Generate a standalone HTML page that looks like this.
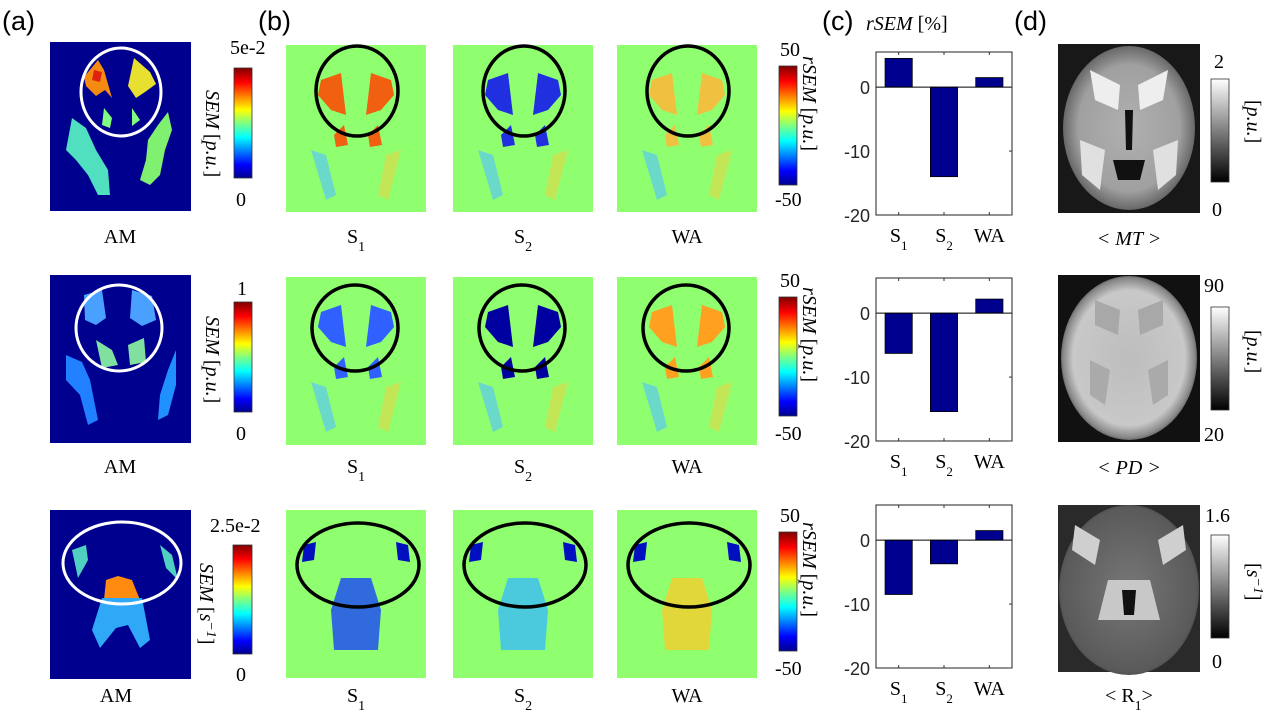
<!DOCTYPE html>
<html><head><meta charset="utf-8">
<style>
body{margin:0;background:#fff;}
svg{display:block;}
.pl{font-family:"Liberation Sans",sans-serif;font-size:27px;fill:#000;}
.tk{font-family:"Liberation Serif",serif;font-size:20px;fill:#000;}
.cap{font-family:"Liberation Serif",serif;font-size:20px;fill:#000;}
.ax{font-family:"Liberation Sans",sans-serif;font-size:18px;fill:#262626;}
.it{font-family:"Liberation Serif",serif;font-style:italic;font-size:20px;fill:#000;}
</style></head>
<body>
<svg id="fig" width="1280" height="720" viewBox="0 0 1280 720" xmlns="http://www.w3.org/2000/svg">
<defs>
<linearGradient id="jet" x1="0" y1="1" x2="0" y2="0">
<stop offset="0" stop-color="#00008f"/><stop offset="0.12" stop-color="#0000ff"/><stop offset="0.37" stop-color="#00ffff"/><stop offset="0.5" stop-color="#80ff80"/><stop offset="0.62" stop-color="#ffff00"/><stop offset="0.87" stop-color="#ff0000"/><stop offset="1" stop-color="#800000"/>
</linearGradient>
<linearGradient id="gray" x1="0" y1="1" x2="0" y2="0"><stop offset="0" stop-color="#000"/><stop offset="1" stop-color="#fff"/></linearGradient>
<radialGradient id="brainMT" cx="0.5" cy="0.5" r="0.55"><stop offset="0" stop-color="#b0b0b0"/><stop offset="0.7" stop-color="#a0a0a0"/><stop offset="0.9" stop-color="#6a6a6a"/><stop offset="1" stop-color="#1a1a1a"/></radialGradient>
<radialGradient id="brainPD" cx="0.5" cy="0.5" r="0.55"><stop offset="0" stop-color="#bdbdbd"/><stop offset="0.75" stop-color="#c8c8c8"/><stop offset="0.88" stop-color="#888"/><stop offset="1" stop-color="#111"/></radialGradient>
<radialGradient id="brainR1" cx="0.5" cy="0.5" r="0.6"><stop offset="0" stop-color="#777"/><stop offset="0.8" stop-color="#5a5a5a"/><stop offset="1" stop-color="#2a2a2a"/></radialGradient>
</defs>

<text class="pl" x="2" y="30">(a)</text>
<text class="pl" x="258" y="30">(b)</text>
<text class="pl" x="822" y="30">(c)</text>
<text class="pl" x="1014" y="30">(d)</text>
<text x="866" y="30"><tspan class="it">rSEM</tspan><tspan class="cap"> [%]</tspan></text>

<g>
<rect x="50" y="42" width="141" height="169" fill="#00008f"/>
<path d="M84,77 L98,60 L104,70 L112,98 L105,90 L96,96 L86,86 Z" fill="#f58a10"/>
<path d="M94,70 L102,72 L100,82 L92,80Z" fill="#e02010"/>
<path d="M134,58 L150,72 L156,84 L145,92 L136,98 L128,86 Z" fill="#e8e030"/>
<path d="M72,118 L86,128 L96,150 L108,170 L110,195 L98,195 L88,175 L76,160 L66,150 Z" fill="#50e0c0"/>
<path d="M168,112 L172,130 L165,150 L160,175 L150,185 L140,180 L146,160 L148,140 L158,125 Z" fill="#80f070"/>
<path d="M104,108 L112,118 L110,128 L102,125Z M132,108 L140,120 L132,126Z" fill="#80ff80"/>
<ellipse cx="121" cy="92" rx="40" ry="44" fill="none" stroke="#fff" stroke-width="3"/>
</g>
<g>
<rect x="234" y="68" width="18" height="110" fill="url(#jet)" stroke="#333" stroke-width="0.8"/>
<text class="tk" x="230" y="54">5e-2</text><text class="tk" x="236" y="206">0</text>
<text class="it" transform="translate(206,90) rotate(90)">SEM <tspan font-style="normal">[</tspan>p.u.<tspan font-style="normal">]</tspan></text>
</g>
<text class="cap" x="120" y="243" text-anchor="middle">AM</text>

<g>
<rect x="50" y="275" width="141" height="168" fill="#00008f"/>
<path d="M84,295 L102,290 L106,318 L96,325 L85,320Z" fill="#4aa0ff"/>
<path d="M132,290 L152,296 L156,320 L142,326 L130,318Z" fill="#4aa0ff"/>
<path d="M96,340 L112,350 L118,365 L102,368Z M128,345 L144,338 L146,362 L130,365Z" fill="#80e0a0"/>
<path d="M66,355 L82,362 L90,380 L98,420 L88,425 L80,395 L66,380Z" fill="#2080ff"/>
<path d="M176,350 L168,370 L160,395 L158,420 L168,415 L176,385Z" fill="#2090ff"/>
<ellipse cx="119" cy="328" rx="43" ry="43" fill="none" stroke="#fff" stroke-width="3"/>
</g>
<g>
<rect x="234" y="302" width="18" height="110" fill="url(#jet)" stroke="#333" stroke-width="0.8"/>
<text class="tk" x="237" y="295">1</text><text class="tk" x="236" y="440">0</text>
<text class="it" transform="translate(206,316) rotate(90)">SEM <tspan font-style="normal">[</tspan>p.u.<tspan font-style="normal">]</tspan></text>
</g>
<text class="cap" x="120" y="473" text-anchor="middle">AM</text>

<g>
<rect x="50" y="510" width="141" height="169" fill="#00008f"/>
<path d="M72,550 L86,545 L88,560 L78,578Z" fill="#50d0c0"/>
<path d="M160,545 L172,555 L178,580 L166,568Z" fill="#50d0c0"/>
<path d="M106,580 L118,576 L132,580 L140,600 L104,600Z" fill="#ff8a10"/>
<path d="M102,598 L142,598 L150,640 L140,648 L128,625 L116,628 L100,648 L92,630Z" fill="#30a8f8"/>
<ellipse cx="122" cy="563" rx="59" ry="41" fill="none" stroke="#fff" stroke-width="3"/>
</g>
<g>
<rect x="233" y="545" width="19" height="109" fill="url(#jet)" stroke="#333" stroke-width="0.8"/>
<text class="tk" x="210" y="532">2.5e-2</text><text class="tk" x="236" y="681">0</text>
<text class="it" transform="translate(200,563) rotate(90)">SEM <tspan font-style="normal">[</tspan>s<tspan baseline-shift="super" font-size="14">−1</tspan><tspan font-style="normal">]</tspan></text>
</g>
<text class="cap" x="116" y="702" text-anchor="middle">AM</text>

<g id="bmaps"></g>

<g>
<rect x="779" y="66" width="18" height="119" fill="url(#jet)" stroke="#333" stroke-width="0.8"/>
<text class="tk" x="780" y="56">50</text><text class="tk" x="775" y="206">-50</text>
<text class="it" transform="translate(803,56) rotate(90)">rSEM <tspan font-style="normal">[</tspan>p.u.<tspan font-style="normal">]</tspan></text>
</g>
<g>
<rect x="779" y="297" width="18" height="119" fill="url(#jet)" stroke="#333" stroke-width="0.8"/>
<text class="tk" x="780" y="287">50</text><text class="tk" x="775" y="440">-50</text>
<text class="it" transform="translate(803,287) rotate(90)">rSEM <tspan font-style="normal">[</tspan>p.u.<tspan font-style="normal">]</tspan></text>
</g>
<g>
<rect x="779" y="532" width="18" height="119" fill="url(#jet)" stroke="#333" stroke-width="0.8"/>
<text class="tk" x="780" y="522">50</text><text class="tk" x="775" y="675">-50</text>
<text class="it" transform="translate(803,522) rotate(90)">rSEM <tspan font-style="normal">[</tspan>p.u.<tspan font-style="normal">]</tspan></text>
</g>

<g id="bars"></g>

<g>
<rect x="1058" y="44" width="142" height="169" fill="#181818"/>
<ellipse cx="1129" cy="128" rx="66" ry="82" fill="url(#brainMT)"/>
<path d="M1090,70 L1120,85 L1118,110 L1095,100Z M1168,70 L1138,85 L1140,110 L1163,100Z" fill="#eeeeee"/>
<path d="M1080,140 L1105,150 L1100,190 L1082,175Z M1178,140 L1153,150 L1158,190 L1176,175Z" fill="#e0e0e0"/>
<path d="M1125,110 L1133,110 L1132,150 L1126,150Z M1113,160 L1145,160 L1140,180 L1118,180Z" fill="#111"/>
</g>
<g>
<rect x="1211" y="79" width="18" height="103" fill="url(#gray)" stroke="#333" stroke-width="0.8"/>
<text class="tk" x="1214" y="68">2</text><text class="tk" x="1212" y="216">0</text>
<text class="it" transform="translate(1247,100) rotate(90)"><tspan font-style="normal">[</tspan>p.u.<tspan font-style="normal">]</tspan></text>
</g>
<text class="it" x="1129" y="245" text-anchor="middle">&lt; MT &gt;</text>

<g>
<rect x="1058" y="275" width="142" height="167" fill="#111"/>
<ellipse cx="1129" cy="358" rx="68" ry="82" fill="url(#brainPD)"/>
<path d="M1095,300 L1120,310 L1118,335 L1095,325Z M1163,300 L1138,310 L1140,335 L1163,325Z" fill="#a8a8a8"/>
<path d="M1090,360 L1110,370 L1105,405 L1090,395Z M1168,360 L1148,370 L1153,405 L1168,395Z" fill="#aaa"/>
</g>
<g>
<rect x="1211" y="307" width="18" height="103" fill="url(#gray)" stroke="#333" stroke-width="0.8"/>
<text class="tk" x="1204" y="292">90</text><text class="tk" x="1204" y="441">20</text>
<text class="it" transform="translate(1247,330) rotate(90)"><tspan font-style="normal">[</tspan>p.u.<tspan font-style="normal">]</tspan></text>
</g>
<text class="it" x="1129" y="474" text-anchor="middle">&lt; PD &gt;</text>

<g>
<rect x="1058" y="505" width="142" height="167" fill="#2a2a2a"/>
<ellipse cx="1129" cy="590" rx="70" ry="85" fill="url(#brainR1)"/>
<path d="M1075,525 L1100,540 L1095,565 L1072,550Z M1183,525 L1158,540 L1163,565 L1186,550Z" fill="#cfcfcf"/>
<path d="M1108,580 L1150,580 L1160,620 L1098,620Z" fill="#c8c8c8"/>
<path d="M1122,590 L1136,590 L1134,615 L1124,615Z" fill="#111"/>
</g>
<g>
<rect x="1211" y="535" width="18" height="103" fill="url(#gray)" stroke="#333" stroke-width="0.8"/>
<text class="tk" x="1205" y="522">1.6</text><text class="tk" x="1212" y="668">0</text>
<text class="it" transform="translate(1247,563) rotate(90)"><tspan font-style="normal">[</tspan>s<tspan baseline-shift="super" font-size="14">−1</tspan><tspan font-style="normal">]</tspan></text>
</g>
<text class="cap" x="1129" y="702" text-anchor="middle">&lt; R<tspan baseline-shift="sub" font-size="14">1</tspan>&gt;</text>
</svg>

<script>
const categories = ["S1", "S2", "WA"];
const rowValues1 = [4.5, -14.0, 1.5];
const rowValues2 = [-6.3, -15.4, 2.2];
const rowValues3 = [-8.5, -3.7, 1.5];
const yTicks = [0, -10, -20];
const yMin = -20, yMax = 5.5;

const NS = "http://www.w3.org/2000/svg";
function mk(tag, attrs, parent){
  const e = document.createElementNS(NS, tag);
  for (const k in attrs) e.setAttribute(k, attrs[k]);
  parent.appendChild(e);
  return e;
}

const bmaps = document.getElementById('bmaps');
const bCols = [{x:286,lab:"S",sub:"1"},{x:453,lab:"S",sub:"2"},{x:617,lab:"WA",sub:""}];
const bRows = [{y:45,h:167,ell:[71,46,41,45],cap:243},{y:277,h:168,ell:[69,51,43,43],cap:473},{y:510,h:168,ell:[72,55,61,42],cap:702}];
const blobColor = [
  ["#f06010","#2030e0","#f0c040"],
  ["#3060ff","#0000a0","#ffa020"],
  ["#2050f0","#40c0f0","#f0d030"]
];
bRows.forEach((r, ri) => {
  bCols.forEach((c, ci) => {
    const g = mk('g', {}, bmaps);
    
    
    mk('rect', {x:c.x, y:r.y, width:140, height:r.h, fill:'#8fff70'}, g);
    const col = blobColor[ri][ci];
    if (ri < 2) {
      mk('path', {d:`M${c.x+35},${r.y+35} L${c.x+55},${r.y+28} L${c.x+60},${r.y+70} L${c.x+45},${r.y+65} L${c.x+32},${r.y+50}Z`, fill:col}, g);
      mk('path', {d:`M${c.x+105},${r.y+35} L${c.x+85},${r.y+28} L${c.x+80},${r.y+70} L${c.x+95},${r.y+65} L${c.x+108},${r.y+50}Z`, fill:col}, g);
      mk('path', {d:`M${c.x+48},${r.y+90} L${c.x+58},${r.y+80} L${c.x+62},${r.y+100} L${c.x+50},${r.y+102}Z`, fill:col}, g);
      mk('path', {d:`M${c.x+82},${r.y+90} L${c.x+92},${r.y+80} L${c.x+96},${r.y+100} L${c.x+84},${r.y+102}Z`, fill:col}, g);
      mk('path', {d:`M${c.x+25},${r.y+105} L${c.x+40},${r.y+110} L${c.x+50},${r.y+150} L${c.x+40},${r.y+155}Z`, fill:'#60d0e0', opacity:0.8}, g);
      mk('path', {d:`M${c.x+115},${r.y+105} L${c.x+100},${r.y+110} L${c.x+92},${r.y+150} L${c.x+102},${r.y+155}Z`, fill:'#d0e050', opacity:0.8}, g);
    } else {
      mk('path', {d:`M${c.x+18},${r.y+35} L${c.x+30},${r.y+32} L${c.x+28},${r.y+50} L${c.x+16},${r.y+52}Z`, fill:'#0010c0'}, g);
      mk('path', {d:`M${c.x+122},${r.y+35} L${c.x+110},${r.y+32} L${c.x+112},${r.y+50} L${c.x+124},${r.y+52}Z`, fill:'#0010c0'}, g);
      mk('path', {d:`M${c.x+55},${r.y+68} L${c.x+85},${r.y+68} L${c.x+95},${r.y+100} L${c.x+92},${r.y+140} L${c.x+48},${r.y+140} L${c.x+45},${r.y+100}Z`, fill:col, opacity:0.85}, g);
    }
    const e = r.ell;
    mk('ellipse', {cx:c.x+e[0], cy:r.y+e[1], rx:e[2], ry:e[3], fill:'none', stroke:'#000', 'stroke-width':3.5}, g);
    const t = mk('text', {x:c.x+70, y:r.cap, 'text-anchor':'middle', class:'cap'}, bmaps);
    
    
    t.appendChild(document.createTextNode(c.lab));
    if (c.sub) { const s = mk('tspan', {'baseline-shift':'sub','font-size':'14'}, t); s.textContent = c.sub; }
  });
});

const barsG = document.getElementById('bars');
const panels = [{top:52, bottom:215, vals:rowValues1},{top:278, bottom:441, vals:rowValues2},{top:505, bottom:668, vals:rowValues3}];
const xL = 876, xR = 1012;
panels.forEach((p, pi) => {
  const y = v => p.bottom - (v - yMin) / (yMax - yMin) * (p.bottom - p.top);
  const x = i => xL + (i + 0.5) / categories.length * (xR - xL);
  const g = mk('g', {}, barsG);
  
  
  const bw = 0.6 * (xR - xL) / categories.length;
  p.vals.forEach((v, i) => {
    const b = mk('rect', {x:x(i)-bw/2, y:Math.min(y(v), y(0)), width:bw, height:Math.abs(y(v)-y(0)), fill:'#00008f', stroke:'#000', 'stroke-width':0.8}, g);
    
    
    const lt = mk('text', {x:x(i), y:p.bottom+27, 'text-anchor':'middle', class:'cap'}, g);
    
    
    if (categories[i] === "WA") lt.textContent = "WA";
    else { lt.appendChild(document.createTextNode("S")); const s = mk('tspan', {'baseline-shift':'sub','font-size':'13'}, lt); s.textContent = categories[i].slice(1); }
    mk('line', {x1:x(i), x2:x(i), y1:p.bottom, y2:p.bottom-3, stroke:'#333'}, g);
    mk('line', {x1:x(i), x2:x(i), y1:p.top, y2:p.top+3, stroke:'#333'}, g);
  });
  mk('line', {x1:xL, x2:xR, y1:y(0), y2:y(0), stroke:'#000', 'stroke-width':1}, g);
  mk('rect', {x:xL, y:p.top, width:xR-xL, height:p.bottom-p.top, fill:'none', stroke:'#222', 'stroke-width':1}, g);
  yTicks.forEach(t => {
    const tl = mk('text', {x:xL-6, y:y(t)+7, 'text-anchor':'end', class:'ax'}, g);
    
    
    tl.textContent = t;
    mk('line', {x1:xR, x2:xR-3, y1:y(t), y2:y(t), stroke:'#333'}, g);
  });
});
</script>
</body></html>
